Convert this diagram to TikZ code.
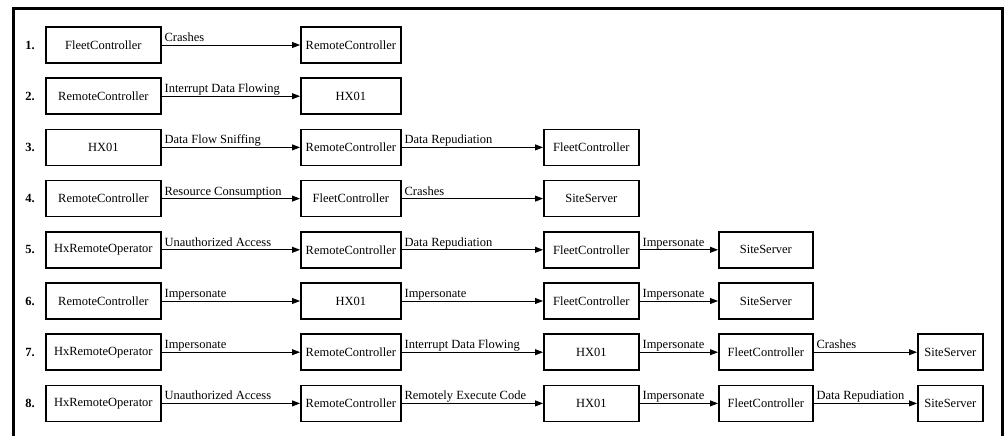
\documentclass[tikz,border=0pt]{standalone}
\usepackage{fontspec}
\setmainfont{Liberation Serif}
\usetikzlibrary{arrows.meta}
\begin{document}
\begin{tikzpicture}[x=1pt,y=-1pt,
  txt/.style={font=\fontsize{12.5}{14}\selectfont},
  ent/.style={txt,draw,line width=1.7pt,minimum height=36pt,inner sep=0pt,anchor=west},
  colA/.style={ent,minimum width=115pt},
  colB/.style={ent,minimum width=100pt},
  colC/.style={ent,minimum width=95pt},
  colD/.style={ent,minimum width=94pt},
  colE/.style={ent,minimum width=65pt},
  flow/.style={line width=0.8pt,-{Triangle[length=8pt,width=6pt]}},
  lbl/.style={txt,pos=0,anchor=base west,inner sep=0pt,xshift=2.5pt,yshift=3.5pt},
  num/.style={txt,font=\fontsize{12.5}{14}\selectfont\bfseries}
]
\useasboundingbox (0,0) rectangle (1006,436);
% outer frame, open at the bottom
\draw[line width=3pt] (13.5,445) -- (13.5,8.5) -- (1002.5,8.5) -- (1002.5,445);

% row 1
\node[num] (n1) at (30,45) {1.};
\node[colA] (r1a) at (45,45) {FleetController};
\node[colB] (r1b) at (300,45) {RemoteController};
\draw[flow] (r1a) -- node[lbl] {Crashes} (r1b);

% row 2
\node[num] (n2) at (30,96.2) {2.};
\node[colA] (r2a) at (45,96.2) {RemoteController};
\node[colB] (r2b) at (300,96.2) {HX01};
\draw[flow] (r2a) -- node[lbl] {Interrupt Data Flowing} (r2b);

% row 3
\node[num] (n3) at (30,147.4) {3.};
\node[colA] (r3a) at (45,147.4) {HX01};
\node[colB] (r3b) at (300,147.4) {RemoteController};
\node[colC] (r3c) at (543,147.4) {FleetController};
\draw[flow] (r3a) -- node[lbl] {Data Flow Sniffing} (r3b);
\draw[flow] (r3b) -- node[lbl] {Data Repudiation} (r3c);

% row 4
\node[num] (n4) at (30,198.6) {4.};
\node[colA] (r4a) at (45,198.6) {RemoteController};
\node[colB] (r4b) at (300,198.6) {FleetController};
\node[colC] (r4c) at (543,198.6) {SiteServer};
\draw[flow] (r4a) -- node[lbl] {Resource Consumption} (r4b);
\draw[flow] (r4b) -- node[lbl] {Crashes} (r4c);

% row 5
\node[num] (n5) at (30,249.8) {5.};
\node[colA] (r5a) at (45,249.8) {HxRemoteOperator};
\node[colB] (r5b) at (300,249.8) {RemoteController};
\node[colC] (r5c) at (543,249.8) {FleetController};
\node[colD] (r5d) at (718,249.8) {SiteServer};
\draw[flow] (r5a) -- node[lbl] {Unauthorized Access} (r5b);
\draw[flow] (r5b) -- node[lbl] {Data Repudiation} (r5c);
\draw[flow] (r5c) -- node[lbl] {Impersonate} (r5d);

% row 6
\node[num] (n6) at (30,301) {6.};
\node[colA] (r6a) at (45,301) {RemoteController};
\node[colB] (r6b) at (300,301) {HX01};
\node[colC] (r6c) at (543,301) {FleetController};
\node[colD] (r6d) at (718,301) {SiteServer};
\draw[flow] (r6a) -- node[lbl] {Impersonate} (r6b);
\draw[flow] (r6b) -- node[lbl] {Impersonate} (r6c);
\draw[flow] (r6c) -- node[lbl] {Impersonate} (r6d);

% row 7
\node[num] (n7) at (30,352.2) {7.};
\node[colA] (r7a) at (45,352.2) {HxRemoteOperator};
\node[colB] (r7b) at (300,352.2) {RemoteController};
\node[colC] (r7c) at (543,352.2) {HX01};
\node[colD] (r7d) at (718,352.2) {FleetController};
\node[colE] (r7e) at (917,352.2) {SiteServer};
\draw[flow] (r7a) -- node[lbl] {Impersonate} (r7b);
\draw[flow] (r7b) -- node[lbl] {Interrupt Data Flowing} (r7c);
\draw[flow] (r7c) -- node[lbl] {Impersonate} (r7d);
\draw[flow] (r7d) -- node[lbl] {Crashes} (r7e);

% row 8
\node[num] (n8) at (30,403.4) {8.};
\node[colA] (r8a) at (45,403.4) {HxRemoteOperator};
\node[colB] (r8b) at (300,403.4) {RemoteController};
\node[colC] (r8c) at (543,403.4) {HX01};
\node[colD] (r8d) at (718,403.4) {FleetController};
\node[colE] (r8e) at (917,403.4) {SiteServer};
\draw[flow] (r8a) -- node[lbl] {Unauthorized Access} (r8b);
\draw[flow] (r8b) -- node[lbl] {Remotely Execute Code} (r8c);
\draw[flow] (r8c) -- node[lbl] {Impersonate} (r8d);
\draw[flow] (r8d) -- node[lbl] {Data Repudiation} (r8e);
\end{tikzpicture}
\end{document}
